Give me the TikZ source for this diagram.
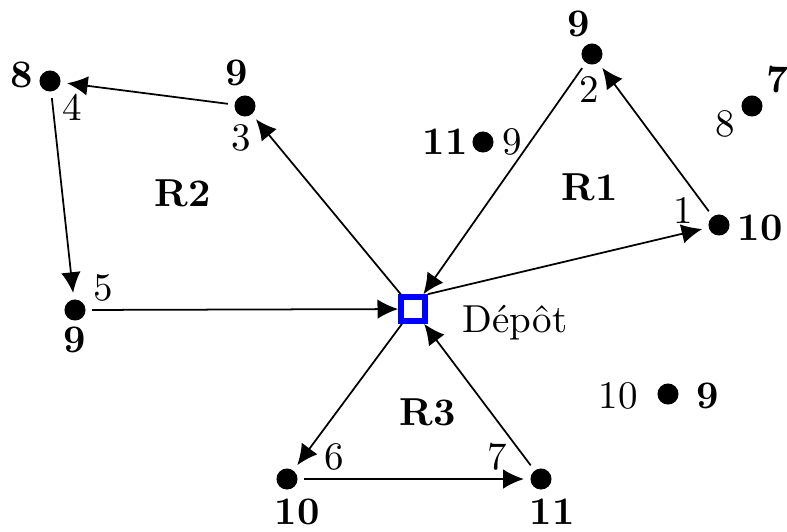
\documentclass[tikz,border=0pt]{standalone}
\usetikzlibrary{arrows.meta}
\begin{document}
\begin{tikzpicture}[x=0.2564pt,y=-0.2564pt,
  cust/.style={circle,fill=black,inner sep=0pt,minimum size=5.4pt,outer sep=1.7pt},
  depotbox/.style={draw=blue,line width=1.6pt,minimum size=6pt,inner sep=0pt,fill=white},
  lbl/.style={inner sep=0pt},
  dem/.style={inner sep=0pt,font=\bfseries},
  arc/.style={-{Latex[length=5.3pt,width=5pt]},line width=0.45pt}]
\useasboundingbox (0,0) rectangle (787,531);
% nodes
\node[depotbox] (d) at (413,309) {};
\node[cust] (c1) at (719,225) {};
\node[cust] (c2) at (592,54) {};
\node[cust] (c3) at (245,106) {};
\node[cust] (c4) at (50,81) {};
\node[cust] (c5) at (75,310) {};
\node[cust] (c6) at (287,479) {};
\node[cust] (c7) at (541,479) {};
\node[cust] (c8) at (752,106) {};
\node[cust] (c9) at (483,142) {};
\node[cust] (c10) at (668,394) {};
% labels
\node[lbl,anchor=base west] (dl) at (462,332) {Dépôt};
\node[dem] (q1) at (760,228) {10};  \node[lbl] (n1) at (683,210) {1};
\node[dem] (q2) at (579,24) {9};    \node[lbl] (n2) at (589,89) {2};
\node[dem] (q3) at (237,73) {9};    \node[lbl] (n3) at (241,138) {3};
\node[dem] (q4) at (22,75) {8};     \node[lbl] (n4) at (72,107) {4};
\node[dem] (q5) at (75,340) {9};    \node[lbl] (n5) at (103,288) {5};
\node[dem] (q6) at (297,512) {10};  \node[lbl] (n6) at (334,457) {6};
\node[dem] (q7) at (552,512) {11};  \node[lbl] (n7) at (497,457) {7};
\node[dem] (q8) at (778,80) {7};    \node[lbl] (n8) at (725,124) {8};
\node[dem] (q9) at (445,142) {11};  \node[lbl] (n9) at (512,142) {9};
\node[dem] (q10) at (708,396) {9};  \node[lbl] (n10) at (618,396) {10};
\node[dem] (r1) at (590,187) {R1};
\node[dem] (r2) at (183,193) {R2};
\node[dem] (r3) at (428,412) {R3};
% routes
\draw[arc] (d.north east) -- (c1);
\draw[arc] (c1) -- (c2);
\draw[arc] (c2) -- (d);
\draw[arc] (d) -- (c3);
\draw[arc] (c3) -- (c4);
\draw[arc] (c4) -- (c5);
\draw[arc] (c5) -- (d);
\draw[arc] (d) -- (c6);
\draw[arc] (c6) -- (c7);
\draw[arc] (c7) -- (d);
\end{tikzpicture}
\end{document}
